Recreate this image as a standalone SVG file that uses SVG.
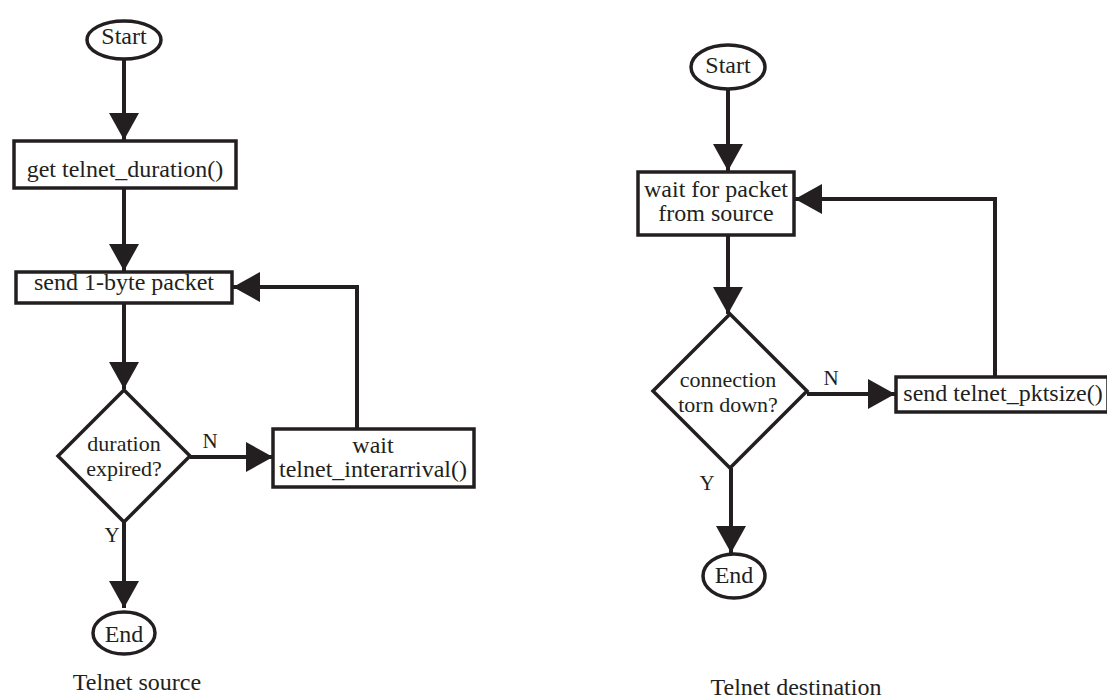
<svg xmlns="http://www.w3.org/2000/svg" width="1107" height="700" viewBox="0 0 1107 700">
  <style>
    .shape { fill: #ffffff; stroke: #231f20; stroke-width: 3.5; }
    .edge { fill: none; stroke: #231f20; stroke-width: 4; marker-end: url(#arrow); }
    text { font-family: "Liberation Serif", "Times New Roman", serif; font-size: 24px; fill: #231f20; text-anchor: middle; }
    .lab { font-size: 21px; }
    .dec { font-size: 22px; }
  </style>
  <defs>
    <marker id="arrow" viewBox="0 0 27 30" refX="27" refY="15" markerWidth="27" markerHeight="30" markerUnits="userSpaceOnUse" orient="auto">
      <path d="M0,0 L27,15 L0,30 Z" fill="#231f20"/>
    </marker>
  </defs>
  <rect width="1107" height="700" fill="#ffffff"/>

  <!-- connectors -->
  <g id="connectors">
    <!-- source flow -->
    <line class="edge" x1="124" y1="60" x2="124" y2="140"/>
    <line class="edge" x1="124" y1="188" x2="124" y2="271"/>
    <line class="edge" x1="124" y1="303" x2="124" y2="389"/>
    <line class="edge" x1="190" y1="457" x2="273" y2="457"/>
    <polyline class="edge" points="357,429 357,287 233,287"/>
    <line class="edge" x1="124" y1="522" x2="124" y2="608"/>
    <text class="lab" x="210" y="448">N</text>
    <text class="lab" x="112" y="542">Y</text>
    <!-- destination flow -->
    <line class="edge" x1="728" y1="90" x2="728" y2="171"/>
    <line class="edge" x1="728" y1="235" x2="728" y2="314"/>
    <line class="edge" x1="807" y1="394" x2="895" y2="394"/>
    <polyline class="edge" points="995,377 995,199 795,199"/>
    <line class="edge" x1="731" y1="468" x2="731" y2="553"/>
    <text class="lab" x="831" y="385">N</text>
    <text class="lab" x="707" y="490">Y</text>
  </g>

  <!-- Telnet source -->
  <g id="src-start">
    <ellipse class="shape" cx="124" cy="40" rx="37" ry="19"/>
    <text x="124" y="44">Start</text>
  </g>
  <g id="src-duration">
    <rect class="shape" x="14" y="141" width="222" height="47"/>
    <text x="125" y="177">get telnet_duration()</text>
  </g>
  <g id="src-send">
    <rect class="shape" x="16" y="272" width="216" height="31"/>
    <text x="124" y="290">send 1-byte packet</text>
  </g>
  <g id="src-decision">
    <polygon class="shape" points="124,390 190,456 124,522 58,456"/>
    <text class="dec" x="124" y="451">duration</text>
    <text class="dec" x="124" y="476">expired?</text>
  </g>
  <g id="src-wait">
    <rect class="shape" x="273" y="429" width="201" height="58"/>
    <text x="373" y="453">wait</text>
    <text x="373" y="477">telnet_interarrival()</text>
  </g>
  <g id="src-end">
    <ellipse class="shape" cx="124" cy="633" rx="31" ry="21"/>
    <text x="124" y="642">End</text>
  </g>
  <text x="137" y="690">Telnet source</text>

  <!-- Telnet destination -->
  <g id="dst-start">
    <ellipse class="shape" cx="728" cy="67" rx="37" ry="22"/>
    <text x="728" y="73">Start</text>
  </g>
  <g id="dst-wait">
    <rect class="shape" x="638" y="172" width="156" height="63"/>
    <text x="716" y="197">wait for packet</text>
    <text x="716" y="221">from source</text>
  </g>
  <g id="dst-decision">
    <polygon class="shape" points="730,314 807,391 730,468 653,391"/>
    <text class="dec" x="728" y="387">connection</text>
    <text class="dec" x="728" y="412">torn down?</text>
  </g>
  <g id="dst-send">
    <rect class="shape" x="896" y="377" width="212" height="35"/>
    <text x="1003" y="401">send telnet_pktsize()</text>
  </g>
  <g id="dst-end">
    <ellipse class="shape" cx="734" cy="576" rx="31" ry="22"/>
    <text x="734" y="583">End</text>
  </g>
  <text x="796" y="695">Telnet destination</text>
</svg>
